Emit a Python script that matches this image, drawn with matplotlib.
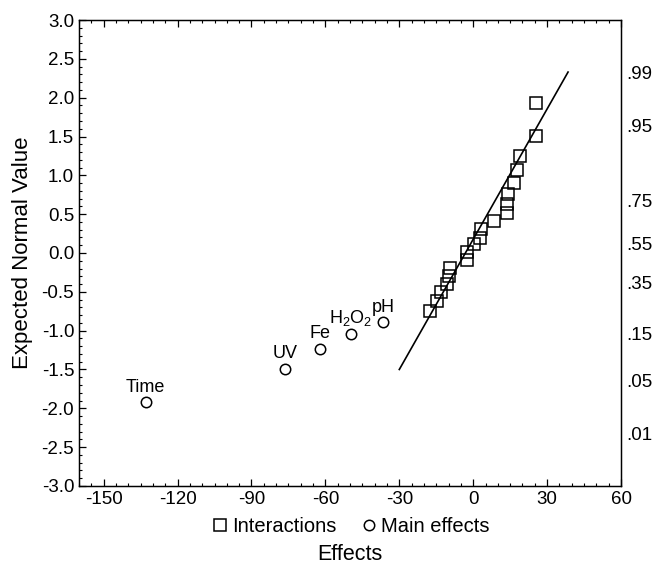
import matplotlib
matplotlib.use("Agg")
import matplotlib.pyplot as plt
from matplotlib.ticker import MultipleLocator

plt.rcParams['font.family'] = ['Liberation Sans', 'DejaVu Sans']
plt.rcParams['mathtext.fontset'] = 'custom'
plt.rcParams['mathtext.rm'] = 'Liberation Sans'
plt.rcParams['mathtext.it'] = 'Liberation Sans'
plt.rcParams['axes.unicode_minus'] = False

# Main effects (circles)
main_names = ["Time", "UV", "Fe", "H$_\\mathregular{2}$O$_\\mathregular{2}$", "pH"]
main_x = [-133.0, -76.4, -62.2, -49.6, -36.6]
main_y = [-1.92, -1.49, -1.23, -1.04, -0.89]

# Interactions (squares)
inter_x = [25.6, 25.6, 19.1, 17.8, 16.7, 14.1, 13.9, 13.8, 8.4, 3.1,
           2.8, 0.5, -2.6, -2.7, -9.3, -9.9, -10.6, -13.0, -14.8, -17.6]
inter_y = [1.936, 1.507, 1.254, 1.066, 0.906, 0.765, 0.632, 0.512, 0.413, 0.306,
           0.194, 0.113, 0.010, -0.093, -0.188, -0.295, -0.394, -0.505, -0.620, -0.745]

# Fitted reference line
fit_x = [-30.0, 38.5]
fit_y = [-1.50, 2.33]

# Right axis: cumulative probabilities and their normal quantiles
prob_labels = [".99", ".95", ".75", ".55", ".35", ".15", ".05", ".01"]
prob_z = [2.326, 1.645, 0.674, 0.126, -0.385, -1.036, -1.645, -2.326]

x_ticks = [-150, -120, -90, -60, -30, 0, 30, 60]
y_ticks = [-3.0, -2.5, -2.0, -1.5, -1.0, -0.5, 0.0, 0.5, 1.0, 1.5, 2.0, 2.5, 3.0]

fig = plt.figure(figsize=(6.52, 5.67), dpi=100)
ax = fig.add_axes([0.1212, 0.1429, 0.8313, 0.8218])

ax.plot(fit_x, fit_y, color='black', lw=1.2, zorder=2)
sq, = ax.plot(inter_x, inter_y, linestyle='none', marker='s', markersize=8.5,
              markerfacecolor='none', markeredgecolor='black', markeredgewidth=1.1,
              zorder=3, label='Interactions')
ci, = ax.plot(main_x, main_y, linestyle='none', marker='o', markersize=7.5,
              markerfacecolor='none', markeredgecolor='black', markeredgewidth=1.1,
              zorder=3, label='Main effects')

for name, x, y in zip(main_names, main_x, main_y):
    ax.annotate(name, (x, y), xytext=(0, 7.5), textcoords='offset points',
                ha='center', va='baseline', fontsize=13)

ax.set_xlim(-160, 60)
ax.set_ylim(-3, 3)
ax.set_xticks(x_ticks)
ax.set_yticks(y_ticks)
ax.set_yticklabels([f"{v:.1f}" for v in y_ticks])
ax.xaxis.set_minor_locator(MultipleLocator(5))
ax.yaxis.set_minor_locator(MultipleLocator(0.1))
ax.tick_params(which='both', direction='in', top=True, right=True, labelsize=13.5)
ax.tick_params(which='major', length=5, width=0.9)
ax.tick_params(which='minor', length=2.5, width=0.8)
for s in ax.spines.values():
    s.set_linewidth(1.0)

ax.set_xlabel("Effects", fontsize=15.5, labelpad=26)
ax.set_ylabel("Expected Normal Value", fontsize=16, labelpad=6)

ax2 = ax.twinx()
ax2.set_ylim(-3, 3)
ax2.set_yticks(prob_z)
ax2.set_yticklabels(prob_labels)
ax2.tick_params(axis='y', length=0, labelsize=13.5, pad=4)

ax.legend(handles=[sq, ci], loc='upper center', bbox_to_anchor=(0.5, -0.05),
          ncol=2, frameon=False, fontsize=14.5, handletextpad=0.1,
          columnspacing=1.1, handlelength=1.0, borderaxespad=0)

fig.savefig("out.png", dpi=100)
